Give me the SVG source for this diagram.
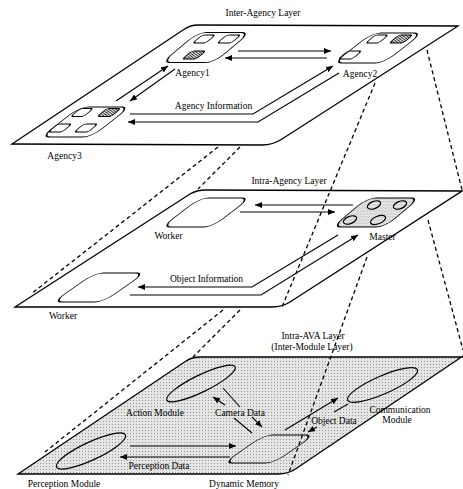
<svg xmlns="http://www.w3.org/2000/svg" width="463" height="489" viewBox="0 0 463 489">
<style>
.plate{fill:#fff;stroke:#000;stroke-width:1.3}
.shape{fill:none;stroke:#000;stroke-width:1.2}
.ln{fill:none;stroke:#000;stroke-width:1.1}
.ar{fill:none;stroke:#000;stroke-width:1.1;marker-end:url(#ah)}
.dash{fill:none;stroke:#000;stroke-width:1.3;stroke-dasharray:4 3}
text{font-family:"Liberation Serif","Times New Roman",serif;font-size:9.5px;fill:#000;text-anchor:middle}
</style>
<defs>
<marker id="ah" markerUnits="userSpaceOnUse" markerWidth="7" markerHeight="6" refX="7" refY="3" orient="auto"><path d="M0,0 L7,3 L0,6 z" fill="#000"/></marker>
<pattern id="dots" width="3" height="3" patternUnits="userSpaceOnUse"><rect width="3" height="3" fill="#e4e4e4"/><rect x="1" y="1" width="1" height="1" fill="#999"/></pattern>
<pattern id="hatch" width="2.5" height="2.5" patternUnits="userSpaceOnUse" patternTransform="rotate(45)"><rect width="2.5" height="2.5" fill="#fff"/><rect width="1.3" height="2.5" fill="#333"/></pattern>
</defs>

<!-- ===== Bottom layer ===== -->
<g id="intra-ava-layer">
<path d="M18,474 L186,361 Q192,357 200,357 L463,357 L463,356 L297,468 Q289,474 278,474 Z" fill="url(#dots)" stroke="#000" stroke-width="1.3"/>
<text x="313" y="339">Intra-AVA Layer</text>
<text x="312" y="350">(Inter-Module Layer)</text>
</g>
<g id="action-module">
<ellipse cx="201" cy="383.5" rx="38" ry="8.5" transform="rotate(-26 201 383.5)" class="shape"/>
<text x="155" y="416">Action Module</text>
</g>
<g id="perception-module">
<ellipse cx="91" cy="451" rx="38" ry="9" transform="rotate(-25 91 451)" class="shape"/>
<text x="64" y="487">Perception Module</text>
</g>
<g id="communication-module">
<ellipse cx="382.5" cy="385" rx="38" ry="9" transform="rotate(-23.5 382.5 385)" class="shape"/>
<text x="400" y="413">Communication</text>
<text x="397" y="423">Module</text>
</g>
<g id="dynamic-memory">
<rect x="-25" y="-14" width="50" height="28" rx="8" transform="translate(269 449) skewX(-55)" class="shape"/>
<text x="244" y="487">Dynamic Memory</text>
</g>
<g id="bottom-connectors">
<line class="ln" x1="252" y1="433" x2="234" y2="418"/>
<line class="ar" x1="225" y1="405" x2="213" y2="397"/>
<line class="ln" x1="223" y1="388" x2="240" y2="407"/>
<line class="ar" x1="252" y1="417" x2="262" y2="427"/>
<text x="240" y="416">Camera Data</text>
<line class="ar" x1="285" y1="430" x2="338" y2="398"/>
<line class="ln" x1="348" y1="404" x2="334" y2="412"/>
<line class="ar" x1="317" y1="427" x2="308" y2="432"/>
<text x="334" y="424">Object Data</text>
<line class="ar" x1="130" y1="446" x2="236" y2="446"/>
<line class="ar" x1="230" y1="457" x2="120" y2="457"/>
<text x="159" y="469">Perception Data</text>
</g>

<!-- dashed: middle to bottom -->
<g id="dashed-mid-bottom">
<line class="dash" x1="223" y1="310" x2="45" y2="452"/>
<line class="dash" x1="240" y1="310" x2="193" y2="357"/>
<line class="dash" x1="367" y1="257" x2="288" y2="475"/>
<line class="dash" x1="428" y1="220" x2="463" y2="350"/>
</g>

<!-- ===== Middle layer ===== -->
<g id="intra-agency-layer">
<path d="M15,307 L190,194 Q197,190 205,190 L462,191 L290,302 Q282,307 272,307 Z" class="plate"/>
<text x="289" y="184">Intra-Agency Layer</text>
</g>
<g id="worker1">
<rect x="-25" y="-14.5" width="50" height="29" rx="8" transform="translate(206 212.5) skewX(-52.5)" class="shape"/>
<text x="168.5" y="239">Worker</text>
</g>
<g id="worker2">
<rect x="-25" y="-14.5" width="50" height="29" rx="8" transform="translate(99 287.5) skewX(-55)" class="shape"/>
<text x="63" y="319">Worker</text>
</g>
<g id="master">
<rect x="-26" y="-14.5" width="52" height="29" rx="8" transform="translate(376 212.5) skewX(-50)" fill="url(#dots)" stroke="#000" stroke-width="1.2"/>
<ellipse cx="374" cy="205" rx="7" ry="3.6" transform="rotate(-22 374 205)" class="shape" fill="#fff"/>
<ellipse cx="400" cy="205" rx="7" ry="3.6" transform="rotate(-22 400 205)" class="shape" fill="#fff"/>
<ellipse cx="350" cy="220" rx="7" ry="3.6" transform="rotate(-22 350 220)" class="shape" fill="#fff"/>
<ellipse cx="378" cy="220" rx="8" ry="3.8" transform="rotate(-22 378 220)" class="shape" fill="#fff"/>
<text x="382.5" y="240">Master</text>
</g>
<g id="middle-connectors">
<line class="ar" x1="353" y1="205" x2="255" y2="205"/>
<line class="ar" x1="240" y1="212" x2="335" y2="212"/>
<polyline class="ar" points="338,235 252,287 138,287"/>
<polyline class="ar" points="130,295 261,295 358,235"/>
<text x="206.5" y="282">Object Information</text>
</g>

<!-- dashed: top to middle -->
<g id="dashed-top-mid">
<line class="dash" x1="218" y1="147" x2="31" y2="294"/>
<line class="dash" x1="240" y1="147" x2="198" y2="189"/>
<line class="dash" x1="375" y1="83" x2="282" y2="307"/>
<line class="dash" x1="427" y1="50" x2="462" y2="190"/>
</g>

<!-- ===== Top layer ===== -->
<g id="inter-agency-layer">
<path d="M12,144 L183,30 Q190,25 198,25 L458,26 L282,139 Q273,145 262,145 Z" class="plate"/>
<text x="263" y="16">Inter-Agency Layer</text>
</g>
<g id="agency1">
<rect x="-26" y="-15" width="52" height="30" rx="8" transform="translate(206 47.5) skewX(-50)" class="shape"/>
<rect x="-6.5" y="-4" width="13" height="8" rx="2.5" transform="translate(204 39) skewX(-50)" class="shape"/>
<rect x="-7" y="-4" width="14" height="8" rx="2.5" transform="translate(229 39) skewX(-50)" class="shape"/>
<rect x="-7" y="-4" width="14" height="8" rx="2.5" transform="translate(194 55) skewX(-50)" fill="url(#hatch)" stroke="#000" stroke-width="1.2"/>
<text x="192.5" y="76">Agency1</text>
</g>
<g id="agency2">
<rect x="-25" y="-15" width="50" height="30" rx="8" transform="translate(378 48) skewX(-52)" class="shape"/>
<rect x="-6.5" y="-4" width="13" height="8" rx="2.5" transform="translate(377 39) skewX(-50)" class="shape"/>
<rect x="-7" y="-4" width="14" height="8" rx="2.5" transform="translate(401 39) skewX(-50)" fill="url(#hatch)" stroke="#000" stroke-width="1.2"/>
<rect x="-7" y="-4" width="14" height="8" rx="2.5" transform="translate(350 55) skewX(-50)" class="shape"/>
<text x="360" y="77">Agency2</text>
</g>
<g id="agency3">
<rect x="-25" y="-15" width="50" height="30" rx="8" transform="translate(85.5 122) skewX(-52)" class="shape"/>
<rect x="-6.5" y="-4" width="13" height="8" rx="2.5" transform="translate(82 112.5) skewX(-50)" class="shape"/>
<rect x="-7" y="-4" width="14" height="8" rx="2.5" transform="translate(109 112.5) skewX(-50)" fill="url(#hatch)" stroke="#000" stroke-width="1.2"/>
<rect x="-7" y="-4" width="14" height="8" rx="2.5" transform="translate(60 128) skewX(-50)" class="shape"/>
<rect x="-7" y="-4" width="14" height="8" rx="2.5" transform="translate(86 128) skewX(-50)" class="shape"/>
<text x="64.5" y="159">Agency3</text>
</g>
<g id="top-connectors">
<line class="ar" x1="238" y1="51" x2="331" y2="51"/>
<line class="ar" x1="327" y1="58" x2="225" y2="58"/>
<line class="ar" x1="116" y1="101" x2="168" y2="66"/>
<line class="ar" x1="175" y1="69" x2="130" y2="101"/>
<polyline class="ar" points="130,114 253,114 333,66"/>
<polyline class="ar" points="339,73 258,122 128,122"/>
<text x="213.5" y="109">Agency Information</text>
</g>
</svg>
